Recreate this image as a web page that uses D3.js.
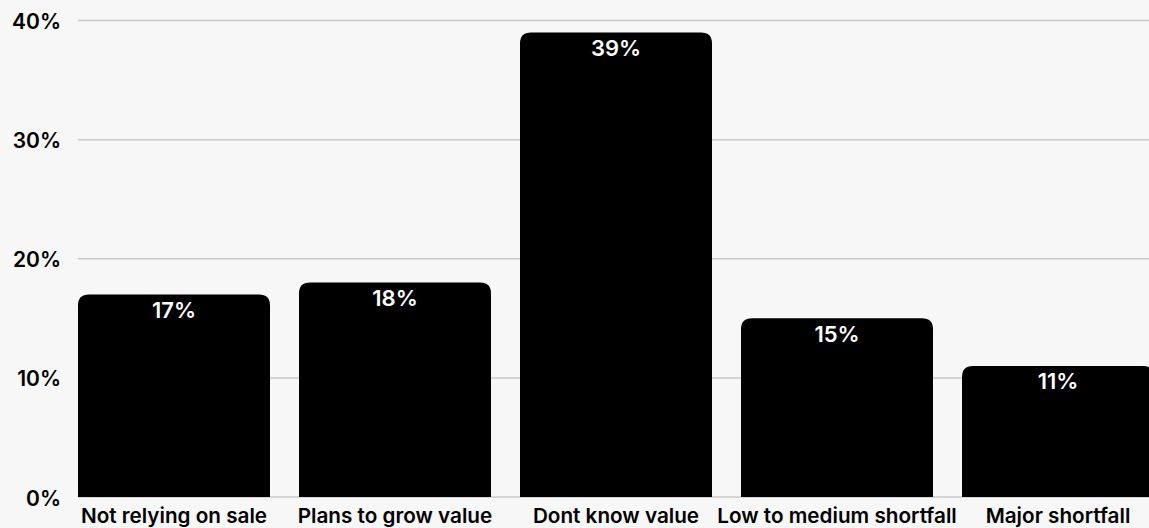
<!DOCTYPE html>
<html>
<head>
<meta charset="utf-8">
<script src="https://cdn.jsdelivr.net/npm/d3@7"></script>
<style>
  html, body { margin: 0; padding: 0; background: #f7f7f7; overflow: hidden; }
  svg { display: block; font-family: Inter, "Helvetica Neue", Arial, sans-serif; }
</style>
</head>
<body>
<svg id="chart" width="1149" height="528"></svg>
<script>
// Survey response shares by category
const categories = ["Not relying on sale", "Plans to grow value", "Dont know value", "Low to medium shortfall", "Major shortfall"];
const values = [17, 18, 39, 15, 11];
const yTicks = [0, 10, 20, 30, 40];

const W = 1149, H = 528;
const svg = d3.select("#chart");

const x = d3.scaleBand()
  .domain(categories)
  .range([78, 1154])
  .paddingInner(29 / 221)
  .paddingOuter(0);

const y = d3.scaleLinear()
  .domain([0, 40])
  .range([497, 20.6]);

// Gridlines
svg.append("g")
  .selectAll("line")
  .data(yTicks)
  .join("line")
  .attr("x1", 78)
  .attr("x2", W)
  .attr("y1", d => y(d))
  .attr("y2", d => y(d))
  .attr("stroke", "#c8c8c8")
  .attr("stroke-width", 1.5);

// Y axis labels
svg.append("g")
  .selectAll("text")
  .data(yTicks)
  .join("text")
  .attr("x", 61)
  .attr("y", d => y(d) + 8.5)
  .attr("text-anchor", "end")
  .attr("font-size", 21)
  .attr("font-weight", 600)
  .attr("fill", "#000")
  .text(d => d + "%");

// Bars with rounded top corners
const r = 11;
function barPath(x0, w, yTop, yBase) {
  return `M${x0},${yBase}V${yTop + r}Q${x0},${yTop} ${x0 + r},${yTop}` +
         `H${x0 + w - r}Q${x0 + w},${yTop} ${x0 + w},${yTop + r}V${yBase}Z`;
}

svg.append("g")
  .selectAll("path")
  .data(values)
  .join("path")
  .attr("d", (d, i) => barPath(x(categories[i]), x.bandwidth(), y(d), y(0)))
  .attr("fill", "#000");

// Value labels
svg.append("g")
  .selectAll("text")
  .data(values)
  .join("text")
  .attr("x", (d, i) => x(categories[i]) + x.bandwidth() / 2)
  .attr("y", d => y(d) + 23.5)
  .attr("text-anchor", "middle")
  .attr("font-size", 22)
  .attr("font-weight", 600)
  .attr("fill", "#fff")
  .text(d => d + "%");

// Category labels
svg.append("g")
  .selectAll("text")
  .data(categories)
  .join("text")
  .attr("x", d => x(d) + x.bandwidth() / 2)
  .attr("y", 523)
  .attr("text-anchor", "middle")
  .attr("font-size", 20.7)
  .attr("font-weight", 600)
  .attr("fill", "#000")
  .text(d => d);
</script>
</body>
</html>
